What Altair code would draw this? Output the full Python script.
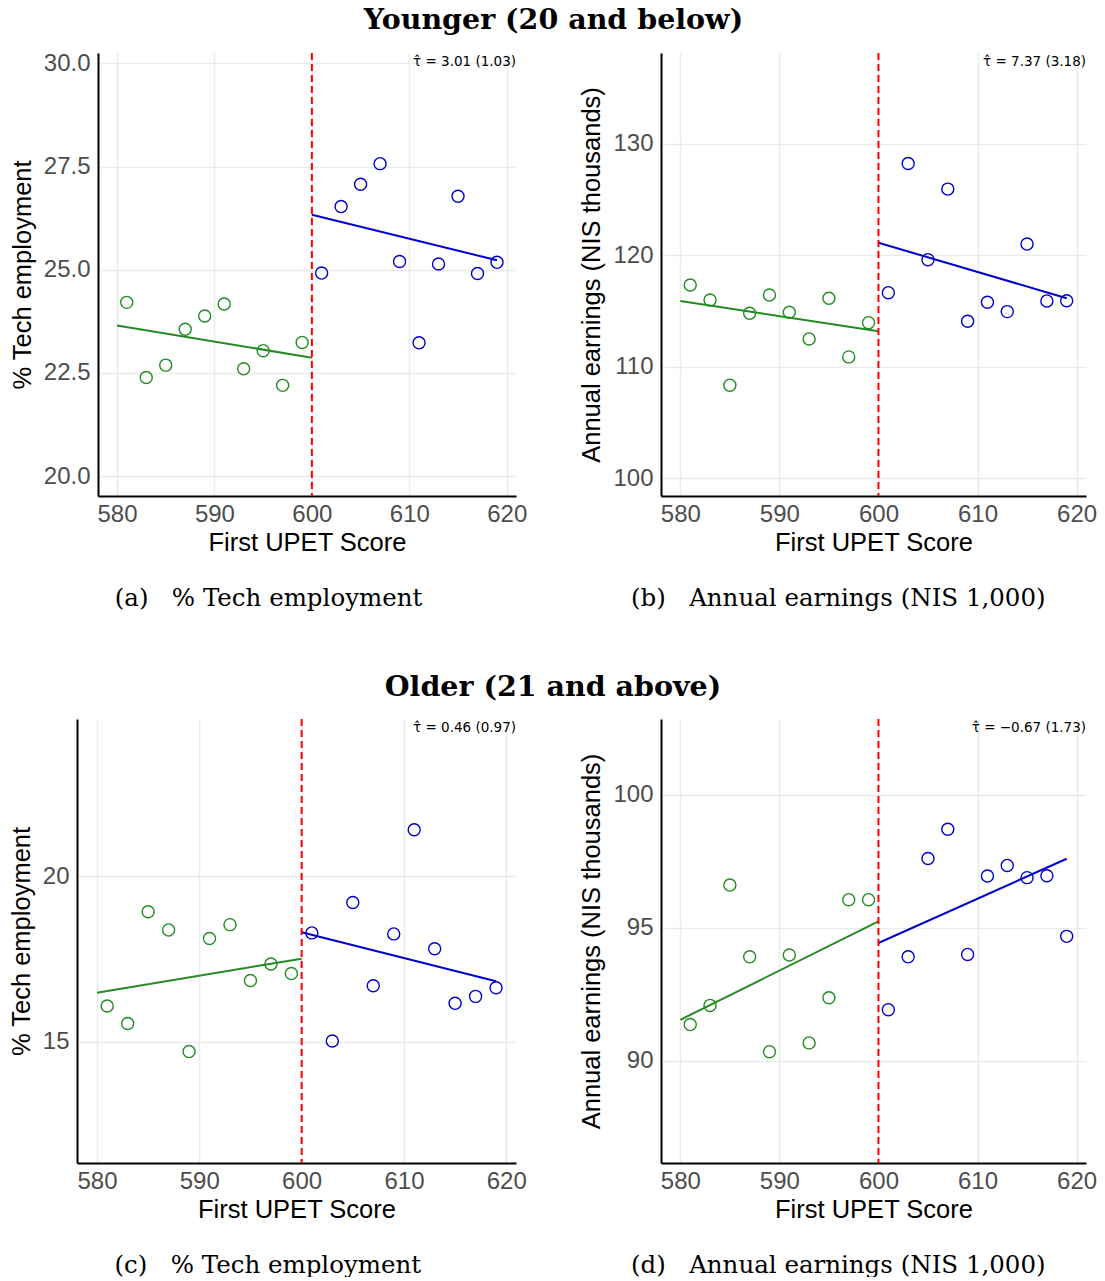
import altair as alt
import pandas as pd

# ---------------- data ----------------
scores = [581, 583, 585, 587, 589, 591, 593, 595, 597, 599,
          601, 603, 605, 607, 609, 611, 613, 615, 617, 619]
sides = ["below"] * 10 + ["above"] * 10

tech_young = [24.21, 22.39, 22.69, 23.56, 23.88, 24.17, 22.60, 23.04, 22.20, 23.24,
              24.92, 26.53, 27.07, 27.57, 25.20, 23.23, 25.14, 26.78, 24.91, 25.18]
earn_young = [117.34, 115.99, 108.35, 114.80, 116.44, 114.89, 112.50, 116.15, 110.89, 113.96,
              116.65, 128.24, 119.61, 125.94, 114.09, 115.79, 114.95, 121.01, 115.91, 115.93]
tech_old = [16.08, 15.55, 18.93, 18.38, 14.70, 18.12, 18.54, 16.85, 17.35, 17.06,
            18.29, 15.02, 19.21, 16.69, 18.26, 21.41, 17.81, 16.16, 16.37, 16.63]
earn_old = [91.36, 92.08, 96.61, 93.91, 90.34, 93.98, 90.67, 92.37, 96.06, 96.06,
            91.92, 93.91, 97.61, 98.71, 94.00, 96.95, 97.35, 96.89, 96.96, 94.68]

# fitted lines: [x_start, x_end] per side and their fitted values
fit_x_below = [580, 600]
fit_x_above = [600, 619]
fit_tech_young = ([23.65, 22.87], [26.33, 25.23])
fit_earn_young = ([115.91, 113.19], [121.13, 116.15])
fit_tech_old = ([16.48, 17.51], [18.31, 16.83])
fit_earn_old = ([91.54, 95.24], [94.43, 97.60])

cutoff = [600]
x_domain = [578.05, 620.95]
x_ticks = [580, 590, 600, 610, 620]

tau_labels = ["τ\u0302 = 3.01 (1.03)", "τ\u0302 = 7.37 (3.18)",
              "τ\u0302 = 0.46 (0.97)", "τ\u0302 = \u22120.67 (1.73)"]
captions = ["(a)\u00a0\u00a0\u00a0% Tech employment",
            "(b)\u00a0\u00a0\u00a0Annual earnings (NIS 1,000)",
            "(c)\u00a0\u00a0\u00a0% Tech employment",
            "(d)\u00a0\u00a0\u00a0Annual earnings (NIS 1,000)"]
row_titles = ["Younger (20 and below)", "Older (21 and above)"]
y_titles = ["% Tech employment", "Annual earnings (NIS thousands)"]

GREEN = "#228B22"
BLUE = "#0000CD"
SANS = "Liberation Sans"
SERIF = "DejaVu Serif"


def panel(values, fit, y_domain, y_ticks, y_fmt, y_title, tau, caption, w, h, lead=0):
    """lead: empty pixels left of the plot area (keeps the two rows' plots staggered
    like the original, whose y-axis label widths differ)."""
    pts = pd.DataFrame({"score": scores, "value": values, "side": sides})
    fit_df = pd.DataFrame({
        "score": fit_x_below + fit_x_above,
        "value": list(fit[0]) + list(fit[1]),
        "side": ["below", "below", "above", "above"],
    })
    cut_df = pd.DataFrame({"score": cutoff})
    tau_df = pd.DataFrame({"score": [x_domain[1]], "value": [y_domain[1]], "label": [tau]})

    xscale = alt.Scale(domain=x_domain, nice=False, zero=False)
    yaxis = alt.Axis(values=y_ticks, format=y_fmt)
    if lead:
        xscale = alt.Scale(domain=x_domain, nice=False, zero=False, range=[lead, w + lead])
        yaxis = alt.Axis(values=y_ticks, format=y_fmt, offset=-lead)

    xenc = alt.X("score:Q", title="First UPET Score", scale=xscale,
                 axis=alt.Axis(values=x_ticks, format="d"))
    yenc = alt.Y("value:Q", title=y_title,
                 scale=alt.Scale(domain=y_domain, nice=False, zero=False),
                 axis=yaxis)
    cenc = alt.Color("side:N", scale=alt.Scale(domain=["below", "above"], range=[GREEN, BLUE]),
                     legend=None)

    points = alt.Chart(pts).mark_point(shape="circle", filled=False, size=145,
                                       strokeWidth=1.4, opacity=1).encode(
        x=xenc, y=yenc, color=cenc)
    lines = alt.Chart(fit_df).mark_line(strokeWidth=2).encode(
        x=xenc, y=yenc, color=cenc, detail="side:N")
    rule = alt.Chart(cut_df).mark_rule(color="#FF0000", strokeWidth=2,
                                       strokeDash=[7, 4]).encode(x=xenc)
    tau_txt = alt.Chart(tau_df).mark_text(align="right", baseline="top", dy=2,
                                          fontSize=13.5, font="DejaVu Sans",
                                          color="black").encode(
        x=xenc, y=yenc, text="label:N")

    return alt.layer(points, lines, rule, tau_txt).properties(
        width=w + lead, height=h,
        title=alt.TitleParams(caption, orient="bottom", anchor="middle", frame="bounds",
                              font=SERIF, fontSize=24.5, fontWeight="normal",
                              color="black", offset=31),
    )


pa = panel(tech_young, fit_tech_young, [19.52, 30.25], [20, 22.5, 25, 27.5, 30], ".1f",
           y_titles[0], tau_labels[0], captions[0], 418, 443, lead=21)
pb = panel(earn_young, fit_earn_young, [98.41, 138.15], [100, 110, 120, 130], "d",
           y_titles[1], tau_labels[1], captions[1], 425, 443)
pc = panel(tech_old, fit_tech_old, [11.33, 24.76], [15, 20], "d",
           y_titles[0], tau_labels[2], captions[2], 439, 444)
pd_ = panel(earn_old, fit_earn_old, [86.15, 102.86], [90, 95, 100], "d",
            y_titles[1], tau_labels[3], captions[3], 425, 444)


def row_title(t, off):
    return alt.TitleParams(t, anchor="middle", frame="bounds", font=SERIF, fontSize=28.5,
                           fontWeight="bold", color="black", offset=off)


row1 = alt.hconcat(pa, pb, spacing=145, bounds="flush", title=row_title(row_titles[0], 16.5))
row2 = alt.hconcat(pc, pd_, spacing=145, bounds="flush", title=row_title(row_titles[1], 16.5))

chart = alt.vconcat(row1, row2, spacing=63).properties(
    padding={"left": 9, "top": 6, "right": 3, "bottom": 0}
).configure_view(stroke=None).configure_axis(
    grid=True, gridColor="#EBEBEB", gridWidth=1.5,
    domain=True, domainColor="black", domainWidth=2,
    ticks=False, tickSize=0,
    labelFont=SANS, labelFontSize=24, labelColor="#4D4D4D", labelPadding=8,
    titleFont=SANS, titleFontSize=25.5, titleColor="black", titleFontWeight="normal",
    titlePadding=8,
).configure_axisX(labelPadding=6, titlePadding=4).configure_axisY(
    labelPadding=8, titlePadding=8)

chart.save("out.html", embed_options={"renderer": "svg", "actions": False})
